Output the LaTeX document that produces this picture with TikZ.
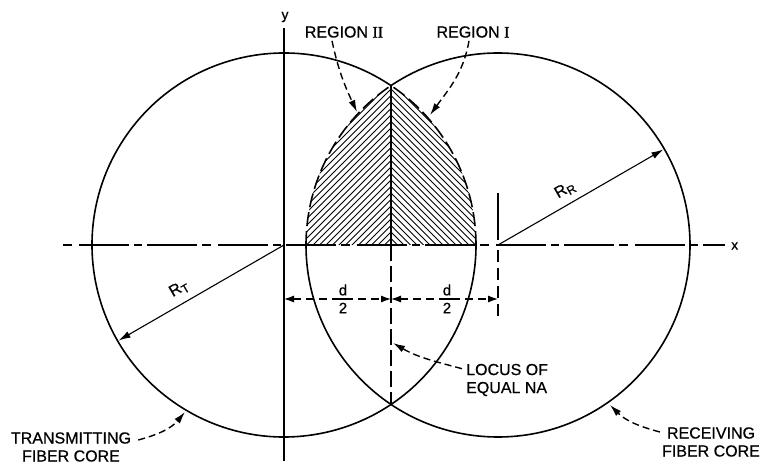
\documentclass[tikz,border=0pt]{standalone}
\usepackage{fontspec}
\setmainfont{Liberation Sans}[FakeBold=0.6]
\newfontfamily\lblfont{Liberation Sans}[FakeBold=0.6]
\newfontfamily\romfont{Liberation Serif}[FakeBold=0.6]
\usetikzlibrary{arrows.meta,calc}
\begin{document}
\begin{tikzpicture}[x=1pt,y=1pt,
  lbl/.style={font=\lblfont\fontsize{16}{18}\selectfont, inner sep=0pt},
  circ/.style={line width=1.6pt},
  lensb/.style={line width=1.6pt, dash pattern=on 14pt off 5pt},
  axisdd/.style={line width=1.1pt, dash pattern=on 9pt off 7pt on 50pt off 5pt on 8pt off 5pt on 50pt off 5pt},
  pointer/.style={line width=1.4pt, dash pattern=on 7pt off 4pt, -{Latex[length=12pt,width=7pt]}},
  dimline/.style={line width=1.1pt, dash pattern=on 8pt off 5pt, {Latex[length=10pt,width=7pt]}-{Latex[length=10pt,width=7pt]}},
  radarrow/.style={line width=1.1pt, -{Latex[length=12pt,width=7pt]}},
  hatch/.style={line width=0.75pt},
  thinline/.style={line width=1.1pt}]
\useasboundingbox (0,0) rectangle (763,461);
\coordinate (OT) at (284,216);
\coordinate (OR) at (498,216);
\coordinate (P) at (391,375.4);
\coordinate (Q) at (391,56.6);
\coordinate (M) at (391,216);

% hatching, region II
\begin{scope}
  \clip (300,216) rectangle (391,380);
  \clip (OR) circle[radius=192pt];
  \foreach \k in {0,...,42} \draw[hatch] (391,{216+\k*6.5}) -- ++(-220,-220);
\end{scope}
% hatching, region I
\begin{scope}
  \clip (391,216) rectangle (482,380);
  \clip (OT) circle[radius=192pt];
  \foreach \k in {0,...,42} \draw[hatch] (391,{216+\k*6.5}) -- ++(220,-220);
\end{scope}

% circles (solid parts)
\draw[circ] (OT) ++(56.13:192pt) arc[start angle=56.13, end angle=360, radius=192pt];
\draw[circ] (OR) ++(180:192pt) arc[start angle=180, end angle=483.87, radius=192pt];
% lens boundary (dashed)
\draw[lensb] (OT) ++(0:192pt) arc[start angle=0, end angle=56.13, radius=192pt];
\draw[lensb] (OR) ++(180:192pt) arc[start angle=180, end angle=123.87, radius=192pt];

% axes
\coordinate (xs) at (63,216);
\coordinate (xe) at (725,216);
\draw[axisdd] (xs) -- (xe);
\node[inner sep=0pt, font=\lblfont\fontsize{14}{14}\selectfont, anchor=west] (xl) at (731,215) {x};
\coordinate (ys) at (284,0);
\coordinate (ye) at (284,433);
\draw[thinline] (ys) -- (ye);
\node[inner sep=0pt, font=\lblfont\fontsize{14}{14}\selectfont] (yl) at (285,444) {y};

% centre line / locus
\draw[thinline] (M) -- (P);
\draw[thinline, dash pattern=on 16pt off 5pt] (M) -- (Q);

% receiving centre tick
\coordinate (t1) at (498,268);
\coordinate (t2) at (498,221);
\coordinate (t3) at (498,211);
\coordinate (t4) at (498,143);
\draw[thinline] (t1) -- (t2);
\draw[thinline, dash pattern=on 12pt off 6pt] (t3) -- (t4);

% dimension lines
\coordinate (d1) at (284,162);
\coordinate (d2) at (391,162);
\coordinate (d3) at (498,162);
\draw[dimline] (d1) -- (d2);
\draw[dimline] (d2) -- (d3);
\node[inner sep=0pt, font=\lblfont\fontsize{15}{15}\selectfont] (dA) at (343,171) {d};
\node[inner sep=0pt, font=\lblfont\fontsize{15}{15}\selectfont] (dB) at (343,153) {2};
\node[inner sep=0pt, font=\lblfont\fontsize{15}{15}\selectfont] (dC) at (447,171) {d};
\node[inner sep=0pt, font=\lblfont\fontsize{15}{15}\selectfont] (dD) at (447,153) {2};
\draw[thinline] (337,162) -- (349,162);
\draw[thinline] (441,162) -- (453,162);

% radius arrows
\draw[radarrow] (OT) -- ++(210:191pt) coordinate (RTe);
\draw[radarrow] (OR) -- ++(30:191pt) coordinate (RRe);
\node[inner sep=0pt, rotate=30, font=\lblfont] (RT) at (179,172) {{\fontsize{16}{16}\selectfont R}\raisebox{-3pt}{\fontsize{12}{12}\selectfont T}};
\node[inner sep=0pt, rotate=30, font=\lblfont] (RR) at (565,271) {{\fontsize{16}{16}\selectfont R}\raisebox{-3pt}{\fontsize{12}{12}\selectfont R}};

% region labels and pointers
\node[lbl] (r2) at (344,429) {REGION {\romfont II}};
\node[lbl] (r1) at (473,429) {REGION {\romfont I}};
\coordinate (r2t) at (357,349);
\coordinate (r1t) at (430,346);
\draw[pointer] ($(r2.south)+(-12,-3)$) to[out=-78,in=115] (r2t);
\draw[pointer] ($(r1.south)+(-4,-3)$) to[out=-100,in=54] (r1t);

% locus label
\node[lbl, align=left, anchor=west] (loc) at (466,81) {LOCUS OF\\EQUAL NA};
\coordinate (loct) at (393,118);
\draw[pointer] ($(loc.north west)+(-4,-5)$) to[out=165,in=-30] (loct);

% fibre core labels
\node[lbl, align=center] (tx) at (71,14) {TRANSMITTING\\FIBER CORE};
\node[lbl, align=center] (rx) at (711,19) {RECEIVING\\FIBER CORE};
\coordinate (txt) at (185,49);
\coordinate (rxt) at (610,56);
\draw[pointer] ($(tx.east)+(7,7)$) to[out=15,in=-130] (txt);
\draw[pointer] ($(rx.west)+(-2,10)$) to[out=165,in=-45] (rxt);
\end{tikzpicture}
\end{document}
